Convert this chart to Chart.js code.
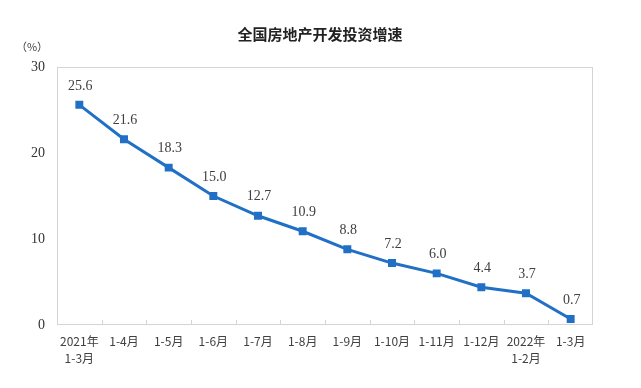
<!DOCTYPE html>
<html>
<head>
<meta charset="utf-8">
<script src="https://cdn.jsdelivr.net/npm/chart.js@4"></script>
<style>
  html, body { margin: 0; padding: 0; background: #fff; }
  #wrap { width: 641px; height: 388px; position: relative; }
</style>
</head>
<body>
<div id="wrap"><canvas id="chart"></canvas></div>
<script>
// Data
const title = '全国房地产开发投资增速';
const unitLabel = '（%）';
const categories = [
  ['2021年', '1-3月'], '1-4月', '1-5月', '1-6月', '1-7月', '1-8月',
  '1-9月', '1-10月', '1-11月', '1-12月', ['2022年', '1-2月'], '1-3月'
];
const growth = [25.6, 21.6, 18.3, 15.0, 12.7, 10.9, 8.8, 7.2, 6.0, 4.4, 3.7, 0.7];
const yTicks = [0, 10, 20, 30];

const lineColor = '#2170c6';
const textColor = '#404040';
const serif = '"Liberation Serif", "Noto Sans CJK SC", serif';
const cjk = '"Noto Sans CJK SC", serif';

// Frame, inside ticks, title, unit and value labels
const decor = {
  id: 'decor',
  beforeDatasetsDraw(chart) {
    const { ctx, chartArea: a, scales } = chart;
    ctx.save();
    ctx.strokeStyle = '#d4d4d4';
    ctx.lineWidth = 1;
    ctx.strokeRect(a.left + 0.5, a.top + 0.5, a.right - a.left - 1, a.bottom - a.top - 1);
    ctx.beginPath();
    for (let i = 1; i < categories.length; i++) {
      const x = Math.round(scales.x.getPixelForValue(i - 0.5)) + 0.5;
      ctx.moveTo(x, a.bottom);
      ctx.lineTo(x, a.bottom - 5);
    }
    ctx.stroke();
    ctx.restore();
  },
  afterDraw(chart) {
    const { ctx } = chart;
    ctx.save();
    ctx.fillStyle = '#222';
    ctx.textAlign = 'center';
    ctx.textBaseline = 'middle';
    ctx.font = 'bold 15px ' + cjk;
    ctx.fillText(title, 320, 34);
    ctx.fillStyle = textColor;
    ctx.font = '11px ' + cjk;
    ctx.fillText(unitLabel, 32, 47);

    ctx.font = '14px ' + serif;
    ctx.textBaseline = 'bottom';
    const meta = chart.getDatasetMeta(0);
    meta.data.forEach((pt, i) => {
      ctx.fillText(growth[i].toFixed(1), pt.x + 1, pt.y - 12);
    });
    ctx.restore();
  }
};

new Chart(document.getElementById('chart'), {
  type: 'line',
  data: {
    labels: categories,
    datasets: [{
      data: growth,
      borderColor: lineColor,
      backgroundColor: lineColor,
      borderWidth: 3,
      pointStyle: 'rect',
      pointRadius: 3.5,
      pointHoverRadius: 3.5,
      tension: 0,
      fill: false,
    }],
  },
  options: {
    responsive: true,
    maintainAspectRatio: false,
    animation: false,
    layout: { padding: { top: 67, right: 48, bottom: 0, left: 0 } },
    plugins: {
      legend: { display: false },
      tooltip: { enabled: false },
      title: { display: false },
    },
    scales: {
      x: {
        offset: true,
        grid: { display: false, drawTicks: false },
        border: { display: false },
        ticks: {
          color: textColor,
          font: { family: cjk, size: 12, lineHeight: 1.4 },
          padding: 8,
          maxRotation: 0,
          autoSkip: false,
        },
        afterFit: (s) => { s.height = 63; },
      },
      y: {
        min: 0,
        max: 30,
        afterBuildTicks: (s) => { s.ticks = yTicks.map(v => ({ value: v })); },
        grid: { display: false, drawTicks: false },
        border: { display: false },
        ticks: {
          color: '#333',
          font: { family: serif, size: 14 },
          padding: 12,
        },
        afterFit: (s) => { s.width = 57; },
      },
    },
  },
  plugins: [decor],
});
</script>
</body>
</html>
